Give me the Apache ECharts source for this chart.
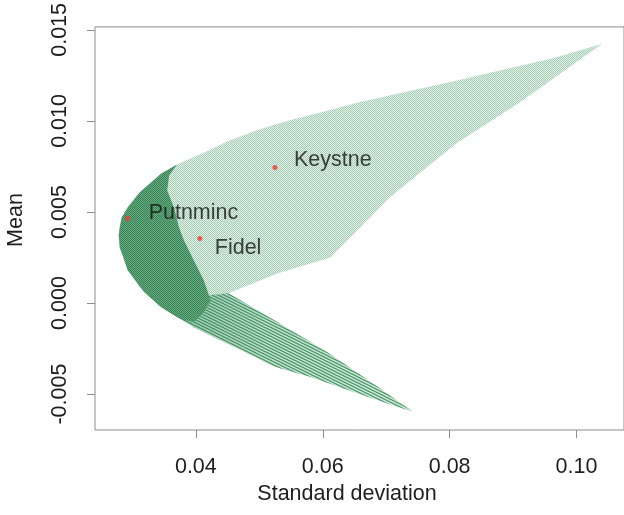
<!DOCTYPE html>
<html>
<head>
<meta charset="utf-8">
<script src="https://cdn.jsdelivr.net/npm/echarts@6/dist/echarts.min.js"></script>
<style>
  html, body { margin: 0; padding: 0; background: #ffffff; }
  #chart { width: 624px; height: 515px; }
</style>
</head>
<body>
<div id="chart"></div>
<script>
// Portfolios of three funds: mean vs standard deviation of monthly returns.

// The three funds (standard deviation, mean)
const fundNames = ['Putnminc', 'Fidel', 'Keystne'];
const fundSd    = [0.02925, 0.04062, 0.05247];
const fundMean  = [0.004644, 0.003548, 0.007438];

// Outline of the upper arm of the portfolio cloud [sd, mean]
const upperArm = [
  [0.10405, 0.014233], [0.09657, 0.013466], [0.08099, 0.012206], [0.06540, 0.011000],
  [0.06073, 0.010562], [0.05449, 0.010014], [0.04982, 0.009521], [0.04483, 0.008863],
  [0.04203, 0.008370], [0.03704, 0.007603], [0.03455, 0.007110], [0.03112, 0.006068],
  [0.02925, 0.005247], [0.02831, 0.004699], [0.02800, 0.004151], [0.02784, 0.003712],
  [0.02800, 0.003055], [0.02847, 0.002616], [0.02925, 0.001795], [0.03423, 0.000699],
  [0.04047, 0.000370], [0.04514, 0.000534], [0.05293, 0.001630], [0.06119, 0.002507],
  [0.06540, 0.003986], [0.07054, 0.005795], [0.08099, 0.008753], [0.09143, 0.011110]
];

// Outline of the lower arm of the portfolio cloud [sd, mean]
const lowerArm = [
  [0.04514, 0.000534], [0.05293, -0.001055], [0.06073, -0.002699], [0.06852, -0.004562],
  [0.07428, -0.005986], [0.06852, -0.005329], [0.05808, -0.004068], [0.05216, -0.003466],
  [0.04779, -0.002699], [0.04483, -0.002206], [0.03969, -0.001329], [0.03455, -0.000233],
  [0.03190, 0.000589], [0.03065, 0.001137], [0.03891, 0.000699]
];

// Dense band along the minimum-variance frontier [sd, mean]
const frontierBand = [
  [0.03704, 0.007603], [0.03455, 0.007110], [0.03112, 0.006068], [0.02925, 0.005247],
  [0.02831, 0.004699], [0.02800, 0.004151], [0.02784, 0.003712], [0.02800, 0.003055],
  [0.02847, 0.002616], [0.02925, 0.001795], [0.03065, 0.001137], [0.03190, 0.000589],
  [0.03455, -0.000233], [0.03735, -0.000836], [0.03969, -0.001055], [0.04125, -0.000507],
  [0.04234, 0.000151], [0.04125, 0.001247], [0.03969, 0.002342], [0.03813, 0.003438],
  [0.03735, 0.004151], [0.03657, 0.005247], [0.03548, 0.006178], [0.03579, 0.007000]
];

// Axis ticks
const xTicks = [0.04, 0.06, 0.08, 0.10];
const yTicks = [-0.005, 0.000, 0.005, 0.010, 0.015];

const FONT = '"Liberation Sans", Arial, sans-serif';
const GREY = '#8c8c8c';

// Small repeating tiles that give the point cloud its dotted texture
function meshTile(bg, fg) {
  const c = document.createElement('canvas');
  c.width = 2; c.height = 2;
  const g = c.getContext('2d');
  g.fillStyle = bg; g.fillRect(0, 0, 2, 2);
  g.fillStyle = fg;
  g.fillRect(0, 0, 1, 1);
  g.fillRect(1, 1, 1, 1);
  return { image: c, repeat: 'repeat' };
}
function stripeTile(bg, fg) {
  const c = document.createElement('canvas');
  c.width = 6; c.height = 6;
  const g = c.getContext('2d');
  g.fillStyle = bg; g.fillRect(0, 0, 6, 6);
  g.strokeStyle = fg; g.lineWidth = 1.3;
  for (let k = -4; k <= 4; k++) {
    g.beginPath();
    g.moveTo(-2, k * 3 - 1);
    g.lineTo(8, k * 3 + 4);
    g.stroke();
  }
  return { image: c, repeat: 'repeat' };
}

function region(name, pts, fill, z) {
  return {
    type: 'custom',
    name: name,
    coordinateSystem: 'cartesian2d',
    silent: true,
    z: z,
    data: pts,
    encode: { x: 0, y: 1 },
    renderItem: function (params, api) {
      if (params.dataIndex !== 0) return null;
      return {
        type: 'polygon',
        shape: { points: pts.map(function (p) { return api.coord(p); }) },
        style: { fill: fill, stroke: null }
      };
    }
  };
}

// Curves crowd together towards the frontier, so the lower arm darkens to the left
const lowerShade = new echarts.graphic.LinearGradient(0, 0, 1, 0, [
  { offset: 0, color: 'rgba(40,125,76,0.45)' },
  { offset: 0.45, color: 'rgba(40,125,76,0.12)' },
  { offset: 1, color: 'rgba(40,125,76,0)' }
]);

const labelOffsets = [[18.5, -5.5], [12.5, 9.5], [16.5, -7.5]];

const chart = echarts.init(document.getElementById('chart'), null, { renderer: 'canvas' });
chart.setOption({
  animation: false,
  backgroundColor: '#ffffff',
  grid: {
    left: 95, top: 26, width: 535, height: 404,
    show: true, borderColor: GREY, borderWidth: 1, backgroundColor: 'transparent'
  },
  xAxis: {
    type: 'value', min: 0.024105, max: 0.107479,
    axisLine: { show: false, onZero: false },
    splitLine: { show: false },
    axisTick: { show: true, length: 8, customValues: xTicks, lineStyle: { color: GREY, width: 1 } },
    axisLabel: {
      customValues: xTicks, margin: 26,
      formatter: function (v) { return v.toFixed(2); },
      fontSize: 21.5, fontFamily: FONT, color: '#1e1e1e'
    }
  },
  yAxis: {
    type: 'value', min: -0.006973, max: 0.015165,
    axisLine: { show: false, onZero: false },
    splitLine: { show: false },
    axisTick: { show: true, length: 8, customValues: yTicks, lineStyle: { color: GREY, width: 1 } },
    axisLabel: {
      customValues: yTicks, margin: 24, rotate: 90,
      formatter: function (v) { return v.toFixed(3); },
      fontSize: 21.5, fontFamily: FONT, color: '#1e1e1e'
    }
  },
  graphic: [
    { type: 'text', x: 347, y: 494,
      style: { text: 'Standard deviation', font: '21.5px ' + FONT, fill: '#1e1e1e', align: 'center', verticalAlign: 'middle' } },
    { type: 'text', x: 16.5, y: 220, rotation: Math.PI / 2,
      style: { text: 'Mean', font: '21.5px ' + FONT, fill: '#1e1e1e', align: 'center', verticalAlign: 'middle' } }
  ],
  series: [
    region('lower arm', lowerArm, stripeTile('rgb(222,238,228)', 'rgb(78,158,110)'), 1),
    region('lower arm shading', lowerArm, lowerShade, 1),
    region('upper arm', upperArm, meshTile('rgb(226,239,231)', 'rgb(166,206,181)'), 2),
    region('frontier band', frontierBand, meshTile('rgb(104,168,128)', 'rgb(56,134,86)'), 3),
    {
      type: 'scatter',
      z: 5,
      symbol: 'circle',
      symbolSize: 5,
      itemStyle: { color: '#f03c32' },
      data: fundNames.map(function (n, i) {
        return {
          name: n,
          value: [fundSd[i], fundMean[i]],
          label: {
            show: true, position: 'right', distance: 0, offset: labelOffsets[i],
            formatter: '{b}', fontSize: 21.5, fontFamily: FONT, color: '#141414'
          }
        };
      })
    }
  ]
});
</script>
</body>
</html>
